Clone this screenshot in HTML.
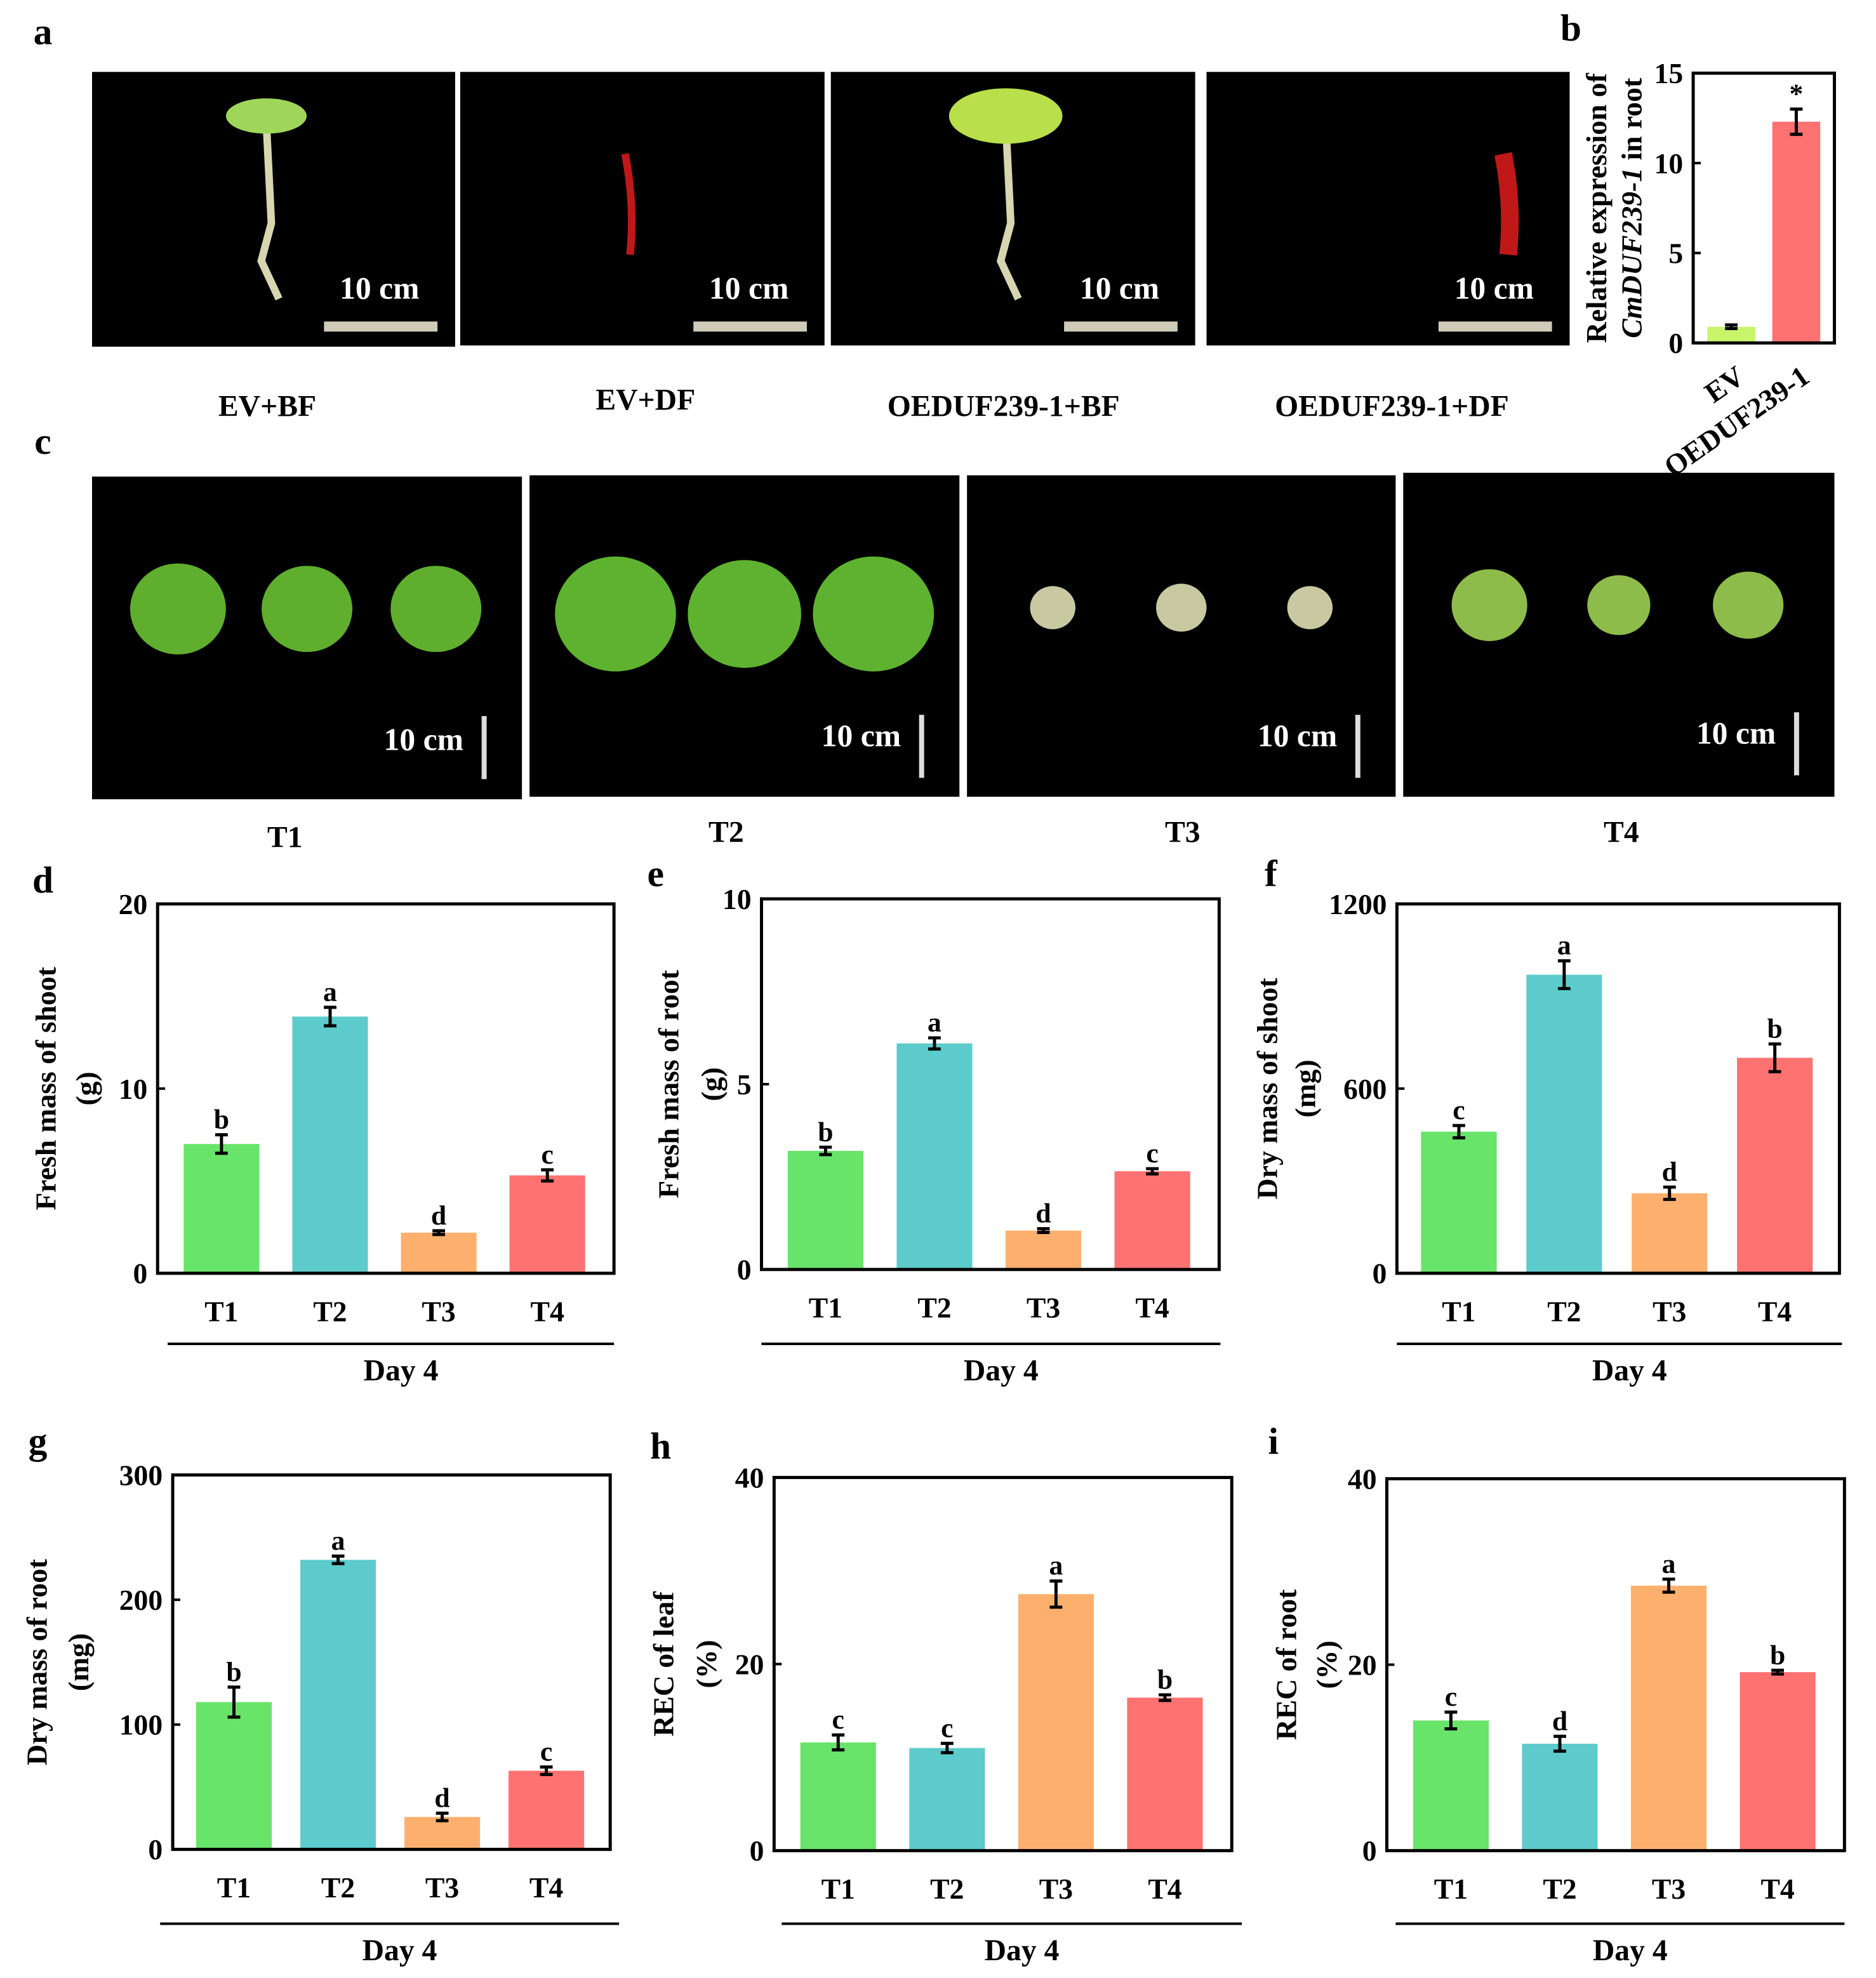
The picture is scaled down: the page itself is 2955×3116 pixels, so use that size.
<!DOCTYPE html>
<html><head><meta charset="utf-8"><style>
html,body{margin:0;padding:0;background:#fff}
svg{display:block}
text{font-family:"Liberation Serif",serif;font-weight:bold;fill:#000}
</style></head><body>
<svg id="fig" width="2955" height="3116" viewBox="0 0 1488 1569" xmlns="http://www.w3.org/2000/svg">
<g id="photos"></g>
<g id="charts"></g>
</svg>
<script>
// ---- chart data ----
const cats = ["T1","T2","T3","T4"];
const dVals = [7.0, 13.9, 2.2, 5.3];
const dErr = [0.5, 0.5, 0.1, 0.3];
const dSig = ["b","a","d","c"];
const eVals = [3.2, 6.1, 1.05, 2.65];
const eErr = [0.1, 0.15, 0.05, 0.07];
const eSig = ["b","a","d","c"];
const fVals = [460, 970, 260, 700];
const fErr = [20, 45, 20, 45];
const fSig = ["c","a","d","b"];
const gVals = [118, 232, 26, 63];
const gErr = [12, 3, 3, 3];
const gSig = ["b","a","d","c"];
const hVals = [11.6, 11.0, 27.5, 16.4];
const hErr = [0.8, 0.5, 1.4, 0.3];
const hSig = ["c","c","a","b"];
const iVals = [14.0, 11.5, 28.5, 19.2];
const iErr = [0.9, 0.8, 0.7, 0.2];
const iSig = ["c","d","a","b"];
const bCats = ["EV","OEDUF239-1"];
const bVals = [0.9, 12.3];
const bErr = [0.1, 0.7];
const bSig = ["","*"];
const dTicks = [0,10,20], eTicks=[0,5,10], fTicks=[0,600,1200], gTicks=[0,100,200,300], hTicks=[0,20,40], iTicks=[0,20,40], bTicks=[0,5,10,15];
const photoLabelsA = ["EV+BF","EV+DF","OEDUF239-1+BF","OEDUF239-1+DF"];

const NS="http://www.w3.org/2000/svg";
const svg=document.getElementById('fig');
const P=document.getElementById('photos');
const C=document.getElementById('charts');
function mk(tag,attrs,parent,txt){const e=document.createElementNS(NS,tag);for(const k in attrs)e.setAttribute(k,attrs[k]);if(txt!==undefined)e.textContent=txt;parent.appendChild(e);return e;}
const colors=["#69e46a","#5dcbcb","#fdb06e","#fe7271"];

// panel letters
[["a",34,35],["b",1246,32],["c",34,360],["d",34,708],["e",520,703],["f",1008,703],["g",30,1153],["h",524,1157],["i",1010,1153]].forEach(l=>{
 const t=mk('text',{x:l[1],y:l[2],'font-size':30,'text-anchor':'middle'},svg,l[0]);
 
 
});

// photos
const aRects=[[73,57,288,218],[365,57,289,217],[659,57,289,217],[957,57,288,217]];
const aLx=[212,512,796,1104];
aRects.forEach((r,i)=>{
 const g=mk('g',{},P);
 
 
 mk('rect',{x:r[0],y:r[1],width:r[2],height:r[3],fill:'#000'},g);
 const cx=r[0]+r[2]*0.48;
 if(i===0||i===2){
  mk('path',{d:`M${cx} ${r[1]+40} L${cx+4} ${r[1]+120} L${cx-4} ${r[1]+150} L${cx+10} ${r[1]+180}`,stroke:'#d8d6b0',"stroke-width":6,fill:'none'},g);
  mk('ellipse',{cx:cx,cy:r[1]+35,rx:i===2?45:32,ry:i===2?22:14,fill:i===2?'#b9e04a':'#9fd65a'},g);
 } else {
  mk('path',{d:`M${cx-8+(i===3?105:0)} ${r[1]+65} q8 40 4 80`,stroke:'#c01818',"stroke-width":i===3?14:6,fill:'none'},g);
 }
 mk('text',{x:r[0]+r[2]-60,y:r[1]+180,'font-size':25,'text-anchor':'middle',fill:'#fff',style:'fill:#fff'},g,'10 cm');
 mk('rect',{x:r[0]+r[2]-104,y:r[1]+198,width:90,height:8,fill:'#cfcbb8'},g);
 const t=mk('text',{x:aLx[i],y:i===1?325:330,'font-size':24,'text-anchor':'middle'},g,photoLabelsA[i]);
});
const cRects=[[73,378,341,256],[420,377,341,255],[767,377,340,255],[1113,375,342,257]];
const cLx=[226,576,938,1286], cLy=[672,668,668,668];
cRects.forEach((r,i)=>{
 const g=mk('g',{},P);
 
 
 mk('rect',{x:r[0],y:r[1],width:r[2],height:r[3],fill:'#000'},g);
 const sizes=[[38,36,36],[48,45,48],[18,20,18],[30,25,28]][i];
 const fills=['#5fae2e','#5eb22f','#c8c9a0','#8dbc4a'];
 [0.2,0.5,0.8].forEach((f,j)=>{
  mk('ellipse',{cx:r[0]+r[2]*f,cy:r[1]+(i===1?110:105),rx:sizes[j],ry:sizes[j]*0.95,fill:fills[i]},g);
 });
 mk('text',{x:r[0]+r[2]-78,y:r[1]+(i===0?217:215),'font-size':25,'text-anchor':'middle',style:'fill:#fff'},g,'10 cm');
 mk('rect',{x:r[0]+r[2]-32,y:r[1]+190,width:4,height:50,fill:'#ddd'},g);
 mk('text',{x:cLx[i],y:cLy[i],'font-size':24,'text-anchor':'middle'},g,cats[i]);
});

// charts
function chart(o){
 const g=mk('g',{},C);
 
 
 const [x0,y0,x1,y1]=o.box;
 const max=o.ticks[o.ticks.length-1];
 const ys=v=>y1-(v/max)*(y1-y0);
 const n=o.vals.length, bw=o.bw||60;
 const xs=i=>x0+(x1-x0)*(o.off+i*o.step);
 o.vals.forEach((v,i)=>{
  const b=mk('rect',{x:xs(i)-bw/2,y:ys(v),width:bw,height:y1-ys(v),fill:o.colors[i]},g);
  
  
  const e=o.err[i],yt=ys(v+e),yb=ys(v-e);
  const eb=mk('path',{d:`M${xs(i)} ${yt}V${yb}M${xs(i)-5} ${yt}h10M${xs(i)-5} ${yb}h10`,stroke:'#000','stroke-width':2.5,fill:'none'},g);
  
  
  if(o.sig[i]){const s=mk('text',{x:xs(i),y:yt-5,'font-size':22,'text-anchor':'middle'},g,o.sig[i]);
  
  }
  if(!o.rot){const t=mk('text',{x:xs(i),y:y1+38,'font-size':23,'text-anchor':'middle'},g,o.cats[i]);
  
  }
  else{const t=mk('text',{x:xs(i)+12,y:y1+30,'font-size':23,'text-anchor':'end',transform:`rotate(-35 ${xs(i)+12} ${y1+30})`},g,o.cats[i]);
  
  }
 });
 mk('rect',{x:x0,y:y0,width:x1-x0,height:y1-y0,fill:'none',stroke:'#000','stroke-width':2.5},g);
 o.ticks.forEach(tv=>{
  mk('line',{x1:x0,x2:x0+6,y1:ys(tv),y2:ys(tv),stroke:'#000','stroke-width':2},g);
  const t=mk('text',{x:x0-8,y:ys(tv)+8,'font-size':23,'text-anchor':'end'},g,tv);
  
  
 });
 const cy=(y0+y1)/2;
 o.ytitle.forEach((s,k)=>{
  const tx=o.tx[k];
  const t=mk('text',{x:tx,y:cy,'font-size':23,'text-anchor':'middle',transform:`rotate(-90 ${tx} ${cy})`},g);
  if(typeof s==='string')t.textContent=s;else{s.forEach(p=>{const sp=mk('tspan',p[1]?{'font-style':'italic'}:{},t,p[0]);});}
  
  
 });
 if(o.day){
  mk('line',{x1:o.day[0],x2:o.day[1],y1:o.day[2],y2:o.day[2],stroke:'#000','stroke-width':2},g);
  const t=mk('text',{x:(o.day[0]+o.day[1])/2+8,y:o.day[2]+29,'font-size':24,'text-anchor':'middle'},g,'Day 4');
  
  
 }
}
const st={off:0.14,step:0.238};
chart({id:'d',box:[125,717,487,1010],ticks:dTicks,vals:dVals,err:dErr,sig:dSig,cats:cats,colors:colors,...st,ytitle:["Fresh mass of shoot","(g)"],tx:[44,76],day:[133,487,1066]});
chart({id:'e',box:[604,713,967,1007],ticks:eTicks,vals:eVals,err:eErr,sig:eSig,cats:cats,colors:colors,...st,ytitle:["Fresh mass of root","(g)"],tx:[538,572],day:[604,968,1066]});
chart({id:'f',box:[1108,717,1459,1010],ticks:fTicks,vals:fVals,err:fErr,sig:fSig,cats:cats,colors:colors,...st,ytitle:["Dry  mass of shoot","(mg)"],tx:[1013,1043],day:[1108,1461,1066]});
chart({id:'g',box:[137,1170,484,1467],ticks:gTicks,vals:gVals,err:gErr,sig:gSig,cats:cats,colors:colors,...st,ytitle:["Dry mass of root","(mg)"],tx:[37,70],day:[127,491,1526]});
chart({id:'h',box:[614,1172,977,1468],ticks:hTicks,vals:hVals,err:hErr,sig:hSig,cats:cats,colors:colors,...st,ytitle:["REC of leaf","(%)"],tx:[534,568],day:[620,985,1526]});
chart({id:'i',box:[1100,1173,1463,1468],ticks:iTicks,vals:iVals,err:iErr,sig:iSig,cats:cats,colors:colors,...st,ytitle:["REC of root","(%)"],tx:[1028,1060],day:[1107,1463,1526]});
chart({id:'b',box:[1343,58,1455,272],ticks:bTicks,vals:bVals,err:bErr,sig:bSig,cats:bCats,colors:["#c9f56a","#fe7271"],off:0.27,step:0.46,bw:38,rot:true,ytitle:["Relative expression of",[["CmDUF239-1",true],[" in root",false]]],tx:[1274,1302]});
</script>
</body></html>
